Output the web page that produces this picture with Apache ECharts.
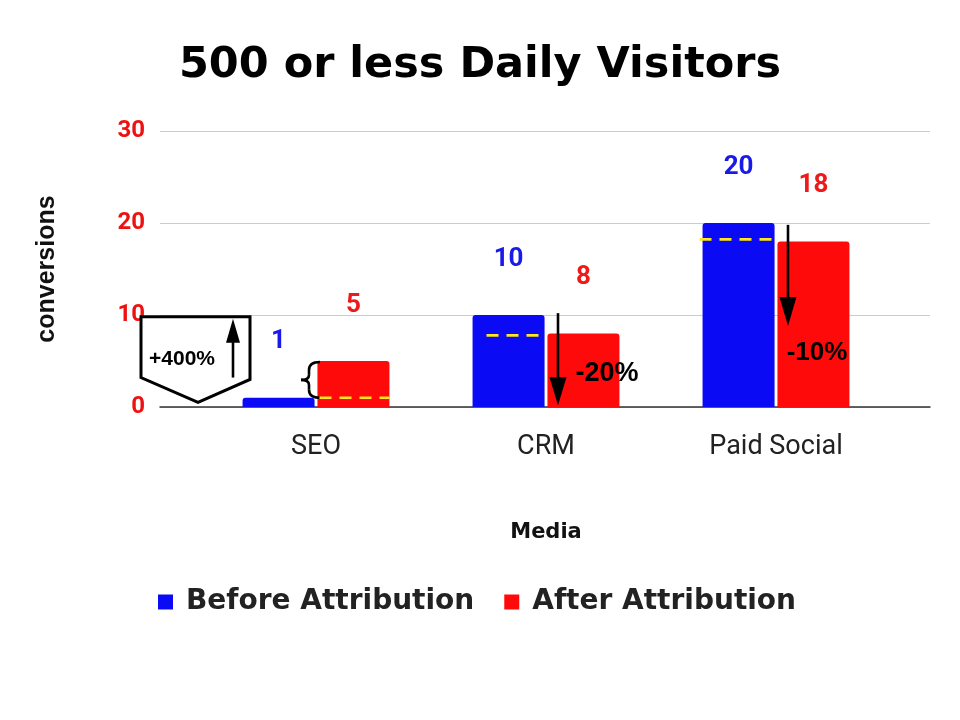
<!DOCTYPE html>
<html><head><meta charset="utf-8">
<script src="https://cdn.jsdelivr.net/npm/echarts@6/dist/echarts.min.js"></script>
<style>html,body{margin:0;padding:0;background:#fff}#c{width:960px;height:720px}</style>
</head><body><div id="c"></div>
<script>
const categories = ['SEO', 'CRM', 'Paid Social'];
const beforeValues = [1, 10, 20];
const afterValues = [5, 8, 18];
const yTicks = [0, 10, 20, 30];
const changeLabels = ['+400%', '-20%', '-10%'];

const BLUE = '#0a0af5', RED = '#ff0a0a';
const chart = echarts.init(document.getElementById('c'));
const yMin = yTicks[0], yMax = yTicks[yTicks.length - 1], yStep = yTicks[1] - yTicks[0];

chart.setOption({
  animation: false,
  title: {
    text: '500 or less Daily Visitors', left: 'center', top: 39,
    textStyle: { fontFamily: 'DejaVu Sans', fontWeight: 'bold', fontSize: 43, color: '#000' }
  },
  legend: {
    left: 153, top: 583, itemWidth: 15, itemHeight: 15, itemGap: 30, icon: 'rect',
    textStyle: { fontFamily: 'DejaVu Sans', fontWeight: 'bold', fontSize: 28, color: '#222', padding: [0, 0, 0, 8] },
    data: ['Before Attribution', 'After Attribution']
  },
  grid: [
    { left: 160, right: 30, top: 131, bottom: 313 },
    { left: 201, right: 69, top: 131, bottom: 313 }
  ],
  xAxis: [
    { gridIndex: 0, type: 'category', data: categories, axisLine: { lineStyle: { color: '#333', width: 1.5 } },
      axisTick: { show: false }, axisLabel: { show: false } },
    { gridIndex: 1, type: 'category', data: categories, axisLine: { show: false }, axisTick: { show: false },
      axisLabel: { margin: 27, fontFamily: 'Roboto', fontSize: 27, color: '#222' },
      name: 'Media', nameLocation: 'middle', nameGap: 115,
      nameTextStyle: { fontFamily: 'DejaVu Sans', fontWeight: 'bold', fontSize: 21, color: '#111' } }
  ],
  yAxis: [
    { gridIndex: 0, type: 'value', min: yMin, max: yMax, interval: yStep,
      axisLine: { show: false }, axisTick: { show: false },
      splitLine: { lineStyle: { color: '#cccccc', width: 1.2 } },
      axisLabel: { margin: 15, fontFamily: 'Roboto', fontWeight: 'bold', fontSize: 24, color: '#ee1111' },
      name: 'conversions', nameLocation: 'middle', nameGap: 100, nameRotate: 90,
      nameTextStyle: { fontFamily: 'Liberation Sans', fontWeight: 'bold', fontSize: 25, color: '#111' } },
    { gridIndex: 1, type: 'value', min: yMin, max: yMax, interval: yStep, show: false }
  ],
  series: [
    { name: 'Before Attribution', type: 'bar', xAxisIndex: 1, yAxisIndex: 1, data: beforeValues,
      barWidth: 72, barGap: '4%', itemStyle: { color: BLUE, borderRadius: [3, 3, 0, 0] },
      label: { show: true, position: 'top', distance: 43, fontFamily: 'Roboto', fontWeight: 'bold', fontSize: 26, color: '#1a1ae8' } },
    { name: 'After Attribution', type: 'bar', xAxisIndex: 1, yAxisIndex: 1, data: afterValues,
      barWidth: 72, barGap: '4%', itemStyle: { color: RED, borderRadius: [3, 3, 0, 0] },
      label: { show: true, position: 'top', distance: 43, fontFamily: 'Roboto', fontWeight: 'bold', fontSize: 26, color: '#ee1a1a' } }
  ]
});

// Annotations anchored to data coordinates
function P(ci, v) { return chart.convertToPixel({ xAxisIndex: 1, yAxisIndex: 1 }, [ci, v]); }
const half = 37.5, bw = 72;
const g = [];
const ink = { stroke: '#000', lineWidth: 2.6, fill: 'none' };
function dash(x1, x2, y) {
  g.push({ type: 'line', shape: { x1, y1: y, x2, y2: y }, z: 100,
    style: { stroke: '#ffe81a', lineWidth: 2.6, lineDash: [12, 8] } });
}
function seg(x1, y1, x2, y2) { g.push({ type: 'line', z: 100, shape: { x1, y1, x2, y2 }, style: ink }); }
function curve(x1, y1, cx, cy, x2, y2) {
  g.push({ type: 'bezierCurve', z: 100, shape: { x1, y1, x2, y2, cpx1: cx, cpy1: cy }, style: ink });
}
function arrow(x, yFrom, yTo, headH, headW) {
  const dir = yTo > yFrom ? 1 : -1;
  g.push({ type: 'line', shape: { x1: x, y1: yFrom, x2: x, y2: yTo - dir * headH * 0.5 }, z: 100,
    style: { stroke: '#000', lineWidth: 2.6 } });
  g.push({ type: 'polygon', shape: { points: [[x, yTo], [x - headW / 2, yTo - dir * headH], [x + headW / 2, yTo - dir * headH]] }, z: 100,
    style: { fill: '#000' } });
}
function txt(x, y, t, size) {
  g.push({ type: 'text', x, y, z: 101, style: { text: t, x: 0, y: 0, align: 'center', verticalAlign: 'middle',
    font: 'bold ' + size + 'px "Liberation Sans", Arial, sans-serif', fill: '#000' } });
}
// SEO
const c0 = P(0, 0)[0];
const y = v => P(0, v)[1];
g.push({ type: 'polygon', z: 99, shape: { points: [
  [c0 - 175, y(9.8)], [c0 - 66, y(9.8)], [c0 - 66, y(3.0)], [c0 - 118, y(0.5)], [c0 - 175, y(3.2)]] },
  style: { fill: '#fff', stroke: '#000', lineWidth: 3 } });
arrow(c0 - 83, y(3.2), y(9.6), 24, 14);
txt(c0 - 134, y(5.2), changeLabels[0], 21);
{
  const bx = c0 - 7, t = y(afterValues[0]) + 1, b = y(beforeValues[0]), m = (t + b) / 2;
  curve(bx + 11, t, bx, t, bx, t + 8);
  seg(bx, t + 8, bx, m - 5);
  curve(bx, m - 5, bx, m, bx - 8, m);
  curve(bx - 8, m, bx, m, bx, m + 5);
  seg(bx, m + 5, bx, b - 8);
  curve(bx, b - 8, bx, b, bx + 11, b);
}
dash(c0 + half - bw / 2 + 2, c0 + half + bw / 2, y(beforeValues[0]));
// CRM
const c1 = P(1, 0)[0];
dash(c1 - half - bw / 2 + 14, c1 - half + bw / 2 - 4, y(afterValues[1]) + 2);
arrow(c1 + 12, y(10.2), y(0.2), 28, 17);
txt(c1 + 61, y(3.6), changeLabels[1], 27);
// Paid Social
const c2 = P(2, 0)[0];
dash(c2 - half - bw / 2 - 3, c2 - half + bw / 2 + 3, y(afterValues[2]) - 2);
arrow(c2 + 12, y(19.8), y(8.8), 29, 17);
txt(c2 + 41, y(5.9), changeLabels[2], 26);

chart.setOption({ graphic: g });
</script></body></html>
